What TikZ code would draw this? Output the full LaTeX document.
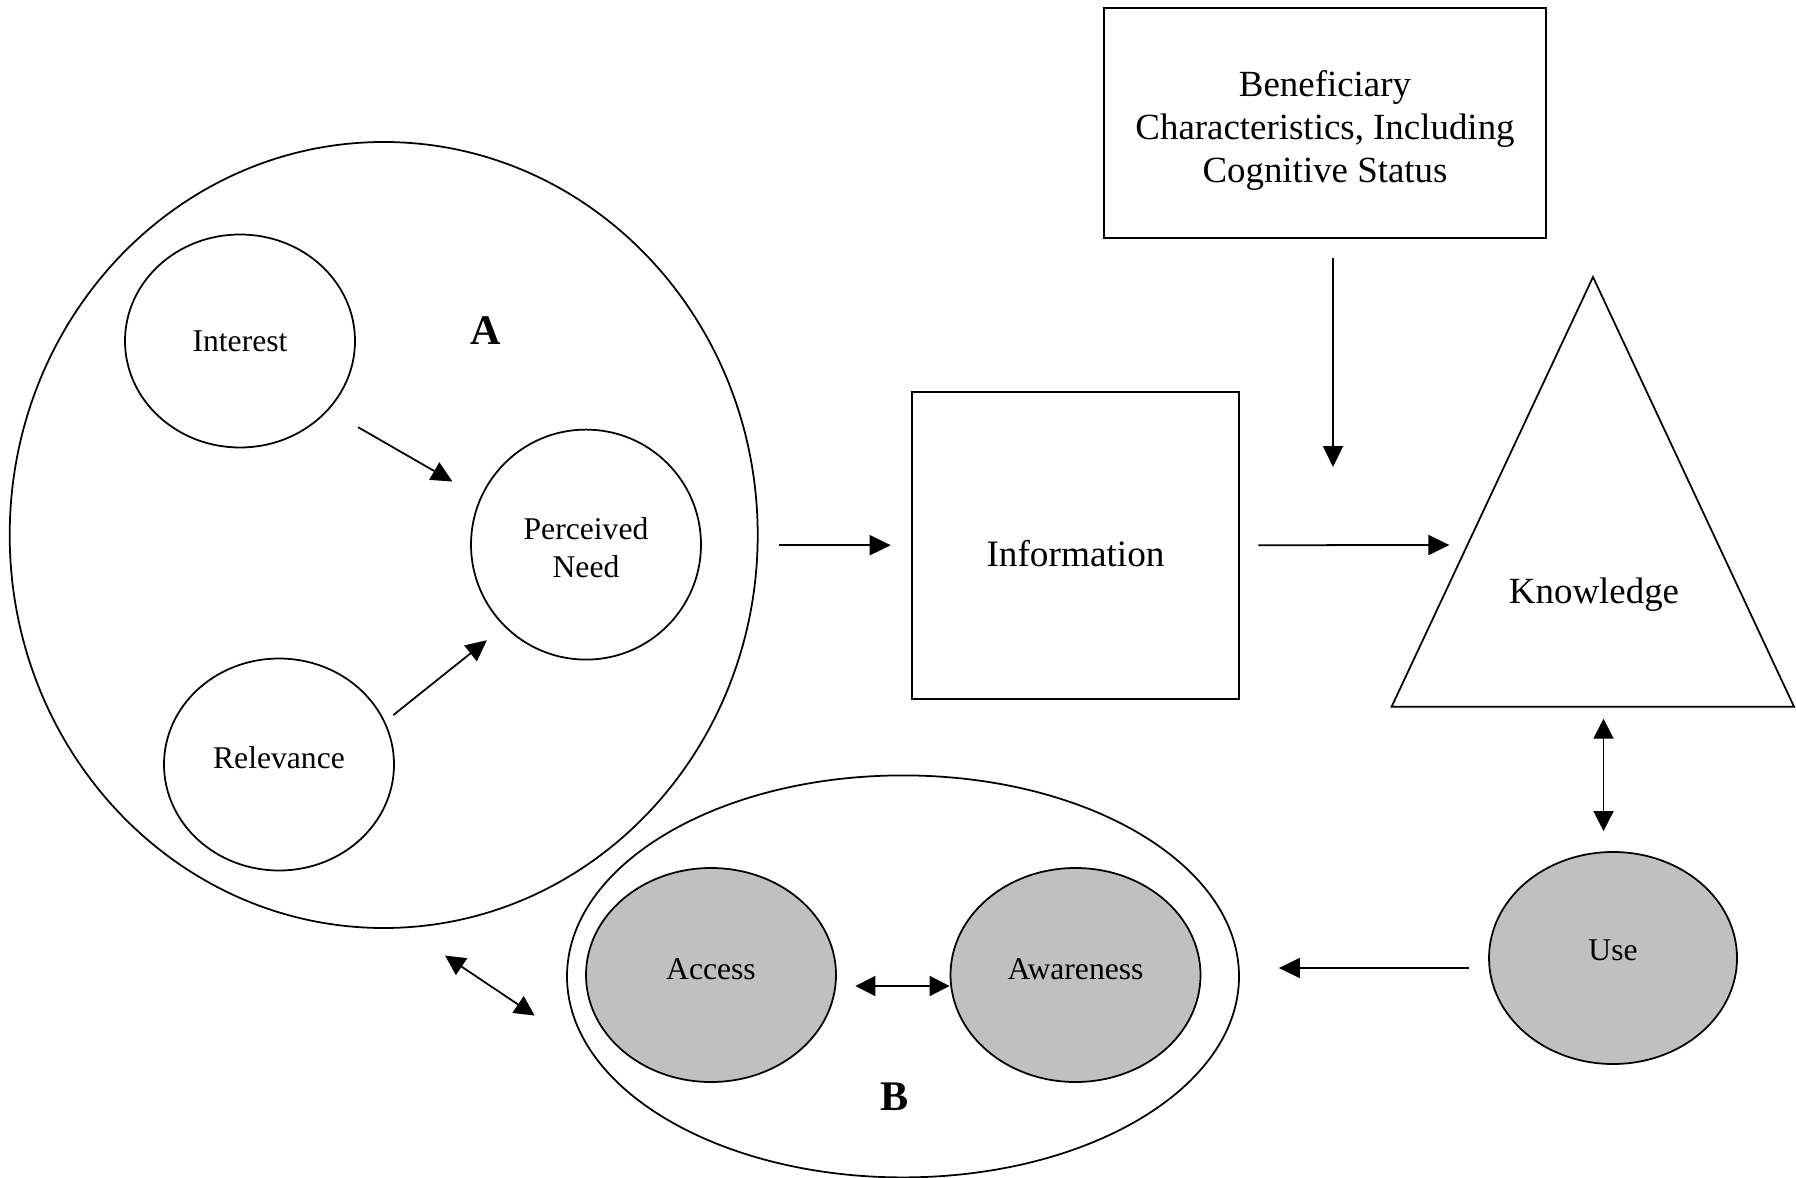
\documentclass[tikz,border=0pt]{standalone}
\usepackage{fontspec}
\setmainfont{Liberation Serif}
\usepackage{tikz}
\usetikzlibrary{arrows.meta,positioning,calc,shapes.geometric}
\definecolor{usegray}{HTML}{C0C0C0}

\begin{document}
\begin{tikzpicture}[
  bubble/.style={draw, ellipse, inner sep=0pt, line width=0.5pt, align=center, font=\fontsize{9}{10.8}\selectfont},
  shaded/.style={bubble, fill=usegray},
  box/.style={draw, rectangle, inner sep=0pt, line width=0.55pt, align=center, font=\fontsize{10.5}{12.2}\selectfont},
  tag/.style={font=\bfseries\fontsize{12}{14}\selectfont},
  edge/.style={-{Triangle[length=2.1mm, width=2mm]}, line width=0.5pt},
  twoway/.style={{Triangle[length=2mm, width=2mm]}-{Triangle[length=2mm, width=2mm]}, line width=0.5pt}
]
\useasboundingbox (0,0) rectangle (17.96,11.77);
% group A
\node[bubble, minimum width=7.48cm, minimum height=7.86cm] (bigA) at (3.837,6.42) {};
\node[bubble, minimum width=2.30cm, minimum height=2.13cm] (intr) at (2.40,8.36) {Interest};
\node[bubble, minimum width=2.30cm, minimum height=2.30cm] (need) at (5.86,6.324) {\rule{0pt}{8.2pt}Perceived\\Need};
\node[bubble, minimum width=2.30cm, minimum height=2.12cm, text height=6.15pt, text depth=4pt] (rel) at (2.79,4.125) {Relevance};
\node[tag] (lblA) at (4.856,8.46) {A};
% middle and right
\node[box, minimum width=3.276cm, minimum height=3.07cm, font=\fontsize{10.6}{12.2}\selectfont, text height=12.36pt, text depth=0pt] (info) at (10.755,6.318) {Information};
\node[box, minimum width=4.42cm, minimum height=2.30cm] (benef) at (13.25,10.54) {\rule{0pt}{11.7pt}Beneficiary\\Characteristics, Including\\Cognitive Status};
\coordinate (ktop) at (15.93,9.00);
\coordinate (kbl) at (13.916,4.703);
\coordinate (kbr) at (17.94,4.703);
\draw[line width=0.5pt] (ktop) -- (kbl) -- (kbr) -- cycle;
\node[font=\fontsize{10.5}{12.2}\selectfont] (know) at (15.94,5.825) {Knowledge};
\coordinate (kin) at ($(ktop)!0.6237!(kbl)$);
\coordinate (kmod) at (13.33,7.10);
\coordinate (kbase) at (16.035,4.703);
\node[shaded, minimum width=2.48cm, minimum height=2.12cm, text height=5.96pt, text depth=4.55pt] (use) at (16.13,2.19) {Use};
% group B
\node[bubble, minimum width=6.72cm, minimum height=4.02cm] (bout) at (9.03,2.006) {};
\node[shaded, minimum width=2.50cm, minimum height=2.14cm, text height=5.96pt, text depth=3.4pt] (acc) at (7.11,2.02) {Access};
\node[shaded, minimum width=2.50cm, minimum height=2.14cm, text height=5.96pt, text depth=3.4pt] (awr) at (10.755,2.02) {Awareness};
\node[tag] (lblB) at (8.945,0.80) {B};
% connectors
\draw[edge, shorten <=3.4mm, shorten >=3.2mm] (intr.-38) -- (need.156.8);
\draw[edge, shorten <=1.05mm, shorten >=2.2mm] (rel.22) -- (need.-135);
\draw[edge, shorten <=2mm, shorten >=2mm] (bigA.east |- info.west) -- (info.west);
\draw[edge, shorten <=1.8mm, shorten >=1.8mm] (info.east) -- (kin);
\draw[edge, shorten <=1.86mm] (benef.south -| kmod) -- (kmod);
\draw[twoway, shorten <=1.2mm, shorten >=2mm] (kbase) -- (use.north -| kbase);
\draw[edge, shorten <=1.95mm, shorten >=3.9mm] ([yshift=-1mm]use.west) -- ([yshift=-1mm]use.west -| bout.east);
\draw[twoway, shorten <=1.85mm] ([yshift=-1.1mm]acc.east) -- ([yshift=-1.1mm]awr.west);
\draw[twoway, shorten <=4.9mm, shorten >=6.9mm] (bigA.-87.4) -- (bout.194.7);
\end{tikzpicture}
\end{document}
